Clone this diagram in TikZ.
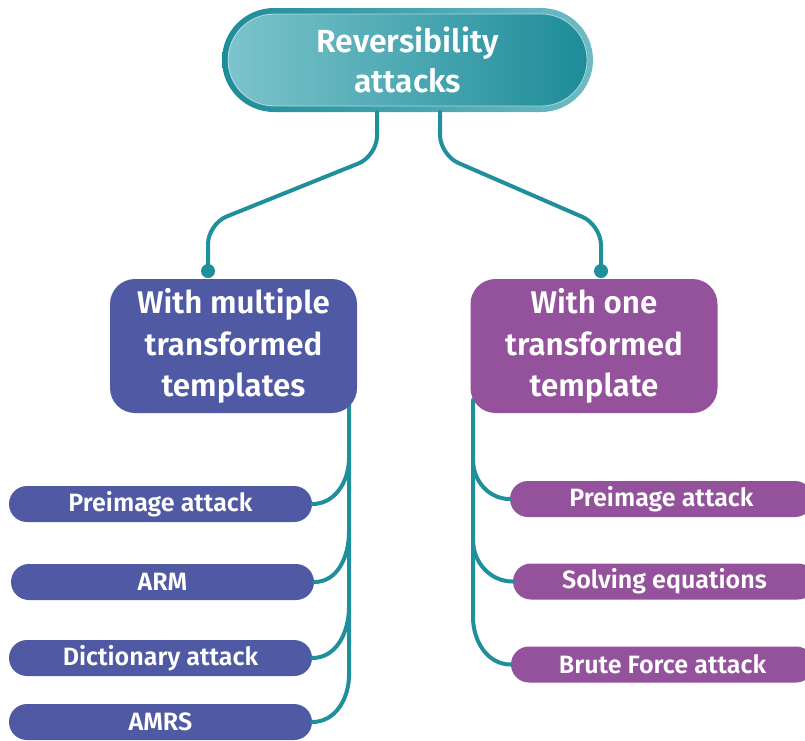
\documentclass[tikz,border=0pt]{standalone}
\usepackage{fontspec}
\setmainfont{Fira Sans}[BoldFont={Fira Sans SemiBold}]
\definecolor{teal}{HTML}{1F8F9C}
\definecolor{tealdark}{HTML}{1D8C99}
\definecolor{teallight}{HTML}{7CC4CB}
\definecolor{bluebox}{HTML}{5059A3}
\definecolor{purplebox}{HTML}{93529B}
\tikzset{
  link/.style={draw=teal, line width=3pt, line cap=round},
  midbox/.style={rounded corners=18.75pt, minimum width=185.25pt, minimum height=100.5pt,
    text=white, align=center, font=\bfseries\fontsize{23.5}{31}\selectfont, inner sep=0pt},
  leafbox/.style={rounded corners=13.5pt, minimum width=227.25pt, minimum height=27pt,
    text=white, align=center, font=\bfseries\fontsize{18.8}{20}\selectfont, inner sep=0pt},
}
\begin{document}
\begin{tikzpicture}[x=0.75pt, y=-0.75pt]
\useasboundingbox (0,0) rectangle (805,740);

% root pill: outer ring and inner body
\node (rootring) at (407.5,60) [rounded corners=39pt, minimum width=278.25pt, minimum height=78pt,
  left color=tealdark, right color=teallight!85!tealdark, inner sep=0pt] {};
\node (root) at (407.5,60) [rounded corners=34.5pt, minimum width=269.25pt, minimum height=69pt,
  left color=teallight, right color=tealdark, draw=white, draw opacity=0.55, line width=0.6pt,
  text=white, align=center, font=\bfseries\fontsize{24}{30}\selectfont, inner sep=0pt]
  {Reversibility\\attacks};

% second level
\coordinate (dotL) at (208,271);
\coordinate (dotR) at (601,271);
\draw[link, rounded corners=15pt] (377,112) -- (377,156) -- (208,224) -- (dotL);
\draw[link, rounded corners=15pt] (440,112) -- (440,155) -- (601,225) -- (dotR);
\fill[teal] (dotL) circle (5.25pt);
\fill[teal] (dotR) circle (5.25pt);

% leaves on the left
\node (pl) at (160.5,504) [leafbox, fill=bluebox] {Preimage attack};
\node (arm) at (162.5,582) [leafbox, fill=bluebox] {ARM};
\node (dict) at (160.5,658) [leafbox, fill=bluebox] {Dictionary attack};
\node (amrs) at (160.5,722) [leafbox, fill=bluebox] {AMRS};

% leaves on the right
\node (pr) at (661.5,499) [leafbox, fill=purplebox] {Preimage attack};
\node (solv) at (664.5,581.5) [leafbox, fill=purplebox] {Solving equations};
\node (brute) at (662.5,664.5) [leafbox, fill=purplebox] {Brute Force attack};

% trunks and branches
\coordinate (tl0) at (349,400);
\coordinate (tl1) at (349,458);
\coordinate (tl2) at (349,532);
\coordinate (tl3) at (349,607);
\coordinate (tl4) at (349,675);
\draw[link] (tl0) -- (tl4) to[out=-90,in=0] (amrs.east);
\draw[link] (tl1) to[out=-90,in=0] (pl.east);
\draw[link] (tl2) to[out=-90,in=0] (arm.east);
\draw[link] (tl3) to[out=-90,in=0] (dict.east);

\coordinate (tr0) at (473,400);
\coordinate (tr1) at (473,460);
\coordinate (tr2) at (473,540);
\coordinate (tr3) at (473,617);
\draw[link] (tr0) -- (tr3) to[out=-90,in=180] (brute.west);
\draw[link] (tr1) to[out=-90,in=180] (pr.west);
\draw[link] (tr2) to[out=-90,in=180] (solv.west);

% second-level boxes drawn over the trunk tops
\node (multi) at (233.5,346) [midbox, fill=bluebox] {With multiple\\transformed\\templates};
\node (one) at (594,346) [midbox, fill=purplebox] {With one\\transformed\\template};
\end{tikzpicture}
\end{document}
